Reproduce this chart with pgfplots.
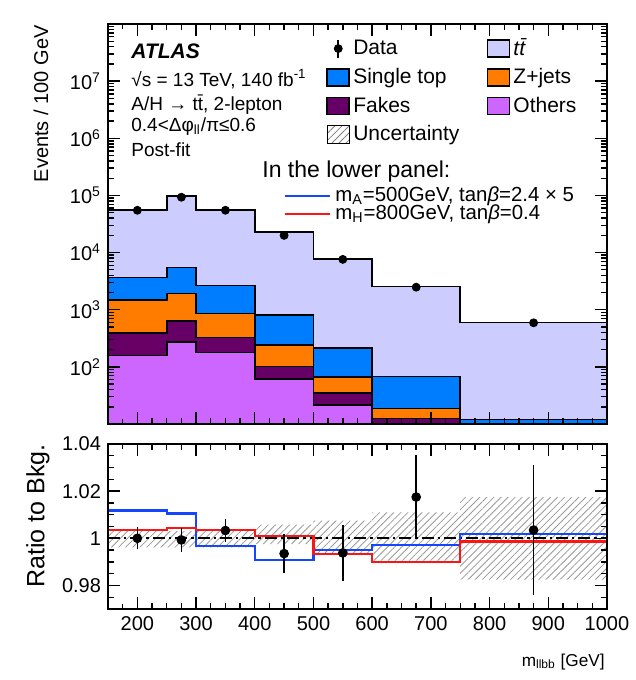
\documentclass[border=0pt]{standalone}
\usepackage{fontspec}
\setmainfont{Liberation Sans}
\usepackage{pgfplots}
\pgfplotsset{compat=1.18}
\usetikzlibrary{patterns.meta}
\definecolor{ttbar}{RGB}{204,204,255}
\definecolor{stop}{RGB}{0,124,255}
\definecolor{zjets}{RGB}{255,124,0}
\definecolor{fakes}{RGB}{102,0,102}
\definecolor{others}{RGB}{204,102,255}
\definecolor{lblue}{RGB}{20,70,255}
\definecolor{lred}{RGB}{255,20,20}
\newcommand{\ttb}{\textit{t\={t}}}
\tikzset{tk/.style={black, line width=0.6pt}}
\pgfplotsset{
  atl/.style={
    scale only axis, width=249.5pt,
    xmin=150, xmax=1000,
    axis on top,
    xtick pos=both, ytick pos=both,
    xtick align=inside, ytick align=inside,
    major tick length=6pt, minor tick length=3pt,
    axis line style={line width=0.9pt},
    every tick/.append style={black, line width=0.7pt},
    tick label style={font=\fontsize{10}{12}\selectfont},
    xtick={200,300,...,1000}, minor x tick num=3,
  },
  stk/.style={const plot, draw=black, line width=0.8pt, fill=#1, forget plot},
}
\begin{document}
\begin{tikzpicture}
\path (0,0) rectangle (316.5pt,-340pt);
% ---------------- upper panel
\begin{axis}[atl,
  at={(54pt,-12pt)}, anchor=north west, height=200pt,
  ymode=log, ymin=10, ymax=1e8,
  xticklabels={},
  ytick={1e1,1e2,1e3,1e4,1e5,1e6,1e7,1e8},
  yticklabels={,10\textsuperscript{2},10\textsuperscript{3},10\textsuperscript{4},10\textsuperscript{5},10\textsuperscript{6},10\textsuperscript{7},},
  legend columns=2,
  legend style={at={(0.437,0.972)}, anchor=north west, draw=none, fill=none,
    inner sep=0pt, row sep=1.9pt, font=\fontsize{10.5}{12}\selectfont,
    nodes={inner sep=1.6pt}},
  legend cell align=left,
  /tikz/every even column/.append style={column sep=12pt},
]
% total (ttbar on top)
\addplot[stk=ttbar] coordinates {(150,1)(150,55600)(250,98000)(300,55000)(400,23000)(500,7700)(600,2530)(750,593)(1000,593)(1000,1)} --cycle;
% single top cumulative
\addplot[stk=stop] coordinates {(150,1)(150,3690)(250,5520)(300,2670)(400,807)(500,216)(600,68)(750,12)(1000,12)(1000,1)} --cycle;
% Z+jets cumulative
\addplot[stk=zjets] coordinates {(150,1)(150,1480)(250,1935)(300,865)(400,241)(500,67)(600,18.8)(750,8)(1000,8)(1000,1)} --cycle;
% Fakes cumulative
\addplot[stk=fakes] coordinates {(150,1)(150,396)(250,634)(300,328)(400,101)(500,35)(600,12.5)(750,5)(1000,5)(1000,1)} --cycle;
% Others
\addplot[stk=others] coordinates {(150,1)(150,157)(250,275)(300,177)(400,61)(500,21.5)(600,6)(750,3)(1000,3)(1000,1)} --cycle;
% data
\addplot[only marks, mark=*, mark size=2pt, black, forget plot] coordinates {(200,55000)(275,93000)(350,55000)(450,20000)(550,7600)(675,2480)(875,590)};
% tick marks (lengths given in axis units)
\pgfplotsinvokeforeach{200,300,400,500,600,700,800,900}{\draw[tk] (axis cs:#1,10) -- (axis cs:#1,14.4); \draw[tk] (axis cs:#1,1e8) -- (axis cs:#1,6.96e7);}
\pgfplotsinvokeforeach{175,225,250,275,325,350,375,425,450,475,525,550,575,625,650,675,725,750,775,825,850,875,925,950,975}{\draw[tk] (axis cs:#1,10) -- (axis cs:#1,12.2); \draw[tk] (axis cs:#1,1e8) -- (axis cs:#1,8.18e7);}
\pgfplotsinvokeforeach{1e2,1e3,1e4,1e5,1e6,1e7}{\draw[tk] (axis cs:150,#1) -- (axis cs:170.4,#1); \draw[tk] (axis cs:1000,#1) -- (axis cs:979.6,#1);}
\pgfplotsinvokeforeach{2e1,3e1,4e1,5e1,6e1,7e1,8e1,9e1,2e2,3e2,4e2,5e2,6e2,7e2,8e2,9e2,2e3,3e3,4e3,5e3,6e3,7e3,8e3,9e3,2e4,3e4,4e4,5e4,6e4,7e4,8e4,9e4,2e5,3e5,4e5,5e5,6e5,7e5,8e5,9e5,2e6,3e6,4e6,5e6,6e6,7e6,8e6,9e6,2e7,3e7,4e7,5e7,6e7,7e7,8e7,9e7}{\draw[tk] (axis cs:150,#1) -- (axis cs:160.2,#1); \draw[tk] (axis cs:1000,#1) -- (axis cs:989.8,#1);}
% legend
\addlegendimage{legend image code/.code={\draw[black, line width=0.8pt] (5.5pt,-4.5pt) -- (5.5pt,4.5pt); \fill[black] (5.5pt,0pt) circle (2pt);}}
\addlegendentry{Data}
\addlegendimage{legend image code/.code={\draw[fill=ttbar, draw=black, line width=0.8pt] (0pt,-4.3pt) rectangle (11pt,4.3pt);}}
\addlegendentry{\ttb}
\addlegendimage{legend image code/.code={\draw[fill=stop, draw=black, line width=0.8pt] (0pt,-4.3pt) rectangle (11pt,4.3pt);}}
\addlegendentry{Single top}
\addlegendimage{legend image code/.code={\draw[fill=zjets, draw=black, line width=0.8pt] (0pt,-4.3pt) rectangle (11pt,4.3pt);}}
\addlegendentry{Z+jets}
\addlegendimage{legend image code/.code={\draw[fill=fakes, draw=black, line width=0.8pt] (0pt,-4.3pt) rectangle (11pt,4.3pt);}}
\addlegendentry{Fakes}
\addlegendimage{legend image code/.code={\draw[fill=others, draw=black, line width=0.8pt] (0pt,-4.3pt) rectangle (11pt,4.3pt);}}
\addlegendentry{Others}
\addlegendimage{legend image code/.code={\fill[pattern={Lines[angle=45,distance=2.5pt,line width=0.4pt]}, pattern color=gray] (0pt,-4.3pt) rectangle (11pt,4.3pt);}}
\addlegendentry{Uncertainty}
\end{axis}
% ---------------- lower panel
\begin{axis}[atl,
  at={(54pt,-222pt)}, anchor=north west, height=82.5pt,
  ymin=0.97, ymax=1.04,
  xticklabels={200,300,400,500,600,700,800,900,1000},
  ytick={0.98,1,1.02,1.04}, yticklabels={0.98,1,1.02,1.04},
  minor y tick num=3,
]
% uncertainty band
\addplot[const plot, draw=none, pattern={Lines[angle=45,distance=2.5pt,line width=0.4pt]}, pattern color=gray!80]
 coordinates {(150,1.003)(250,1.003)(300,1.003)(400,1.0058)(500,1.0075)(600,1.011)(750,1.0175)(1000,1.0175)
              (1000,0.9825)(750,0.9905)(600,0.993)(500,0.9975)(400,0.9962)(300,0.9962)(250,0.9962)(150,0.9962)} --cycle;
% unity line
\addplot[black, line width=0.8pt, dash pattern=on 6pt off 2pt on 1.2pt off 2pt] coordinates {(150,1)(1000,1)};
% signal ratios
\addplot[const plot, lblue, line width=1.1pt] coordinates {(150,1.0118)(250,1.0105)(300,0.9966)(400,0.9909)(500,0.995)(600,0.9973)(750,1.0018)(1000,1.0018)};
\addplot[const plot, lred, line width=1.1pt] coordinates {(150,1.0035)(250,1.0044)(300,1.0035)(400,1.001)(500,0.9933)(600,0.9901)(750,0.9986)(1000,0.9986)};
% data
\addplot[only marks, mark=*, mark size=2pt, black, line width=0.8pt,
  error bars/.cd, y dir=both, y explicit, error bar style={line width=0.8pt}, error mark=none]
 coordinates {
 (200,1.000) +- (0,0.0046)
 (275,0.9993) +- (0,0.005)
 (350,1.0033) +- (0,0.0048)
 (450,0.9935) +- (0,0.0082)
 (550,0.9938) +- (0,0.012)
 (675,1.0175) +- (0,0.0178)
 (875,1.0035) +- (0,0.0276)
 };
% tick marks (lengths given in axis units)
\pgfplotsinvokeforeach{200,300,400,500,600,700,800,900}{\draw[tk] (axis cs:#1,0.97) -- (axis cs:#1,0.9738); \draw[tk] (axis cs:#1,1.04) -- (axis cs:#1,1.0362);}
\pgfplotsinvokeforeach{175,225,250,275,325,350,375,425,450,475,525,550,575,625,650,675,725,750,775,825,850,875,925,950,975}{\draw[tk] (axis cs:#1,0.97) -- (axis cs:#1,0.9721); \draw[tk] (axis cs:#1,1.04) -- (axis cs:#1,1.0379);}
\pgfplotsinvokeforeach{0.98,1.0,1.02}{\draw[tk] (axis cs:150,#1) -- (axis cs:170.4,#1); \draw[tk] (axis cs:1000,#1) -- (axis cs:979.6,#1);}
\pgfplotsinvokeforeach{0.975,0.985,0.99,0.995,1.005,1.01,1.015,1.025,1.03,1.035}{\draw[tk] (axis cs:150,#1) -- (axis cs:160.2,#1); \draw[tk] (axis cs:1000,#1) -- (axis cs:989.8,#1);}
\end{axis}
% ---------------- text
\begin{scope}[x=0.5pt, y=-0.5pt]
\node[anchor=base west, inner sep=0pt, font=\fontsize{10.5}{12}\selectfont\bfseries\itshape] at (131,58) {ATLAS};
\begin{scope}[every node/.style={anchor=base west, inner sep=0pt, font=\fontsize{9.5}{11}\selectfont}]
\node at (131,86) {√s = 13 TeV, 140 fb\textsuperscript{-1}};
\node at (131,110) {A/H → t\={t}, 2-lepton};
\node at (131,131) {0.4<Δφ\textsubscript{ll}/π≤0.6};
\node at (131,156) {Post-fit};
\end{scope}
\node[anchor=base west, inner sep=0pt, font=\fontsize{11.5}{13}\selectfont] at (262,177) {In the lower panel:};
\begin{scope}[every node/.style={anchor=base west, inner sep=0pt, font=\fontsize{10.2}{12}\selectfont}]
\node at (335,201) {m\textsubscript{A}=500GeV, tan\textit{β}=2.4 × 5};
\node at (335,219) {m\textsubscript{H}=800GeV, tan\textit{β}=0.4};
\end{scope}
\draw[lblue, line width=1.1pt] (285,196) -- (330,196);
\draw[lred, line width=1.1pt] (285,214) -- (330,214);
\node[rotate=90, anchor=east, inner sep=0pt, font=\fontsize{10}{12}\selectfont] at (41,25) {Events / 100 GeV};
\node[rotate=90, anchor=east, inner sep=0pt, font=\fontsize{12.5}{14}\selectfont] at (38,444) {Ratio to Bkg.};
\node[anchor=base east, inner sep=0pt, font=\fontsize{8.6}{10}\selectfont] at (605,666) {m\textsubscript{llbb} [GeV]};
\end{scope}
\end{tikzpicture}
\end{document}
